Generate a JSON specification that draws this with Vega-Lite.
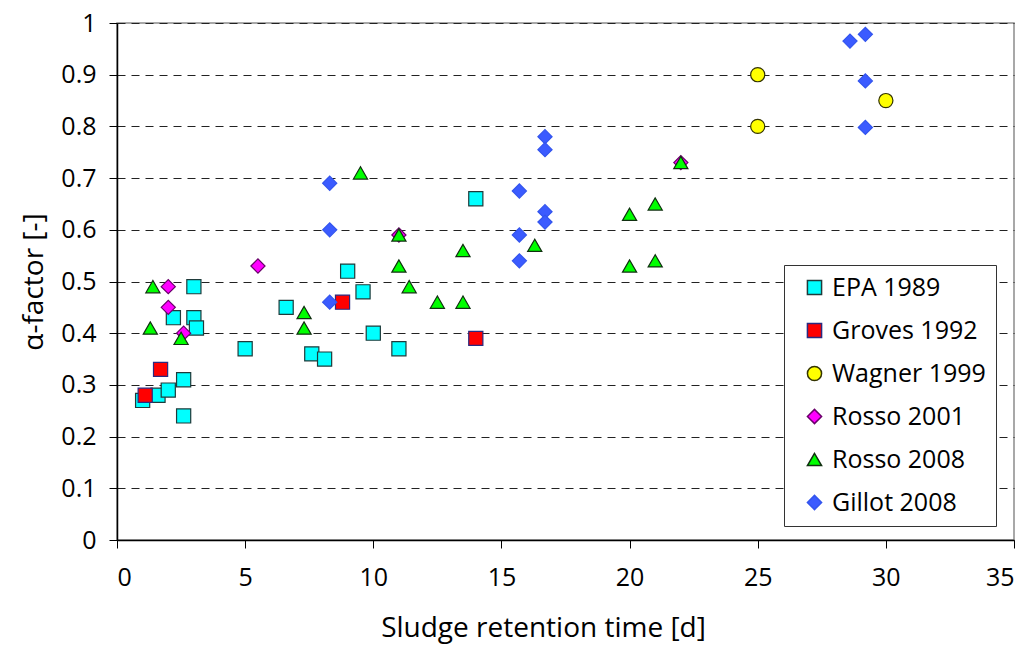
{
  "$schema": "https://vega.github.io/schema/vega-lite/v6.json",
  "width": 897,
  "height": 517,
  "autosize": {"type": "none"},
  "padding": {"left": 117, "top": 23, "right": 15, "bottom": 110},
  "background": "white",
  "config": {
    "font": "Open Sans",
    "view": {"stroke": "#8c8c8c", "strokeWidth": 1.5},
    "axis": {
      "labelFont": "Open Sans",
      "titleFont": "Open Sans",
      "labelFontSize": 25,
      "titleFontSize": 28,
      "titleFontWeight": "normal",
      "labelColor": "#000",
      "titleColor": "#000",
      "domainColor": "#000",
      "tickColor": "#000",
      "domainWidth": 1.5,
      "tickSize": 8
    }
  },
  "data": {
    "values": [
      {"srt": 1.0, "alpha": 0.27, "study": "EPA 1989"},
      {"srt": 1.6, "alpha": 0.28, "study": "EPA 1989"},
      {"srt": 2.0, "alpha": 0.29, "study": "EPA 1989"},
      {"srt": 2.6, "alpha": 0.31, "study": "EPA 1989"},
      {"srt": 2.6, "alpha": 0.24, "study": "EPA 1989"},
      {"srt": 2.2, "alpha": 0.43, "study": "EPA 1989"},
      {"srt": 3.0, "alpha": 0.49, "study": "EPA 1989"},
      {"srt": 3.0, "alpha": 0.43, "study": "EPA 1989"},
      {"srt": 3.1, "alpha": 0.41, "study": "EPA 1989"},
      {"srt": 5.0, "alpha": 0.37, "study": "EPA 1989"},
      {"srt": 6.6, "alpha": 0.45, "study": "EPA 1989"},
      {"srt": 7.6, "alpha": 0.36, "study": "EPA 1989"},
      {"srt": 8.1, "alpha": 0.35, "study": "EPA 1989"},
      {"srt": 9.0, "alpha": 0.52, "study": "EPA 1989"},
      {"srt": 9.6, "alpha": 0.48, "study": "EPA 1989"},
      {"srt": 10.0, "alpha": 0.40, "study": "EPA 1989"},
      {"srt": 11.0, "alpha": 0.37, "study": "EPA 1989"},
      {"srt": 14.0, "alpha": 0.66, "study": "EPA 1989"},
      {"srt": 1.1, "alpha": 0.28, "study": "Groves 1992"},
      {"srt": 1.7, "alpha": 0.33, "study": "Groves 1992"},
      {"srt": 8.8, "alpha": 0.46, "study": "Groves 1992"},
      {"srt": 14.0, "alpha": 0.39, "study": "Groves 1992"},
      {"srt": 25.0, "alpha": 0.90, "study": "Wagner 1999"},
      {"srt": 25.0, "alpha": 0.80, "study": "Wagner 1999"},
      {"srt": 30.0, "alpha": 0.85, "study": "Wagner 1999"},
      {"srt": 2.0, "alpha": 0.49, "study": "Rosso 2001"},
      {"srt": 2.0, "alpha": 0.45, "study": "Rosso 2001"},
      {"srt": 2.6, "alpha": 0.40, "study": "Rosso 2001"},
      {"srt": 5.5, "alpha": 0.53, "study": "Rosso 2001"},
      {"srt": 11.0, "alpha": 0.59, "study": "Rosso 2001"},
      {"srt": 22.0, "alpha": 0.73, "study": "Rosso 2001"},
      {"srt": 1.4, "alpha": 0.49, "study": "Rosso 2008"},
      {"srt": 1.3, "alpha": 0.41, "study": "Rosso 2008"},
      {"srt": 2.5, "alpha": 0.39, "study": "Rosso 2008"},
      {"srt": 7.3, "alpha": 0.44, "study": "Rosso 2008"},
      {"srt": 7.3, "alpha": 0.41, "study": "Rosso 2008"},
      {"srt": 9.5, "alpha": 0.71, "study": "Rosso 2008"},
      {"srt": 11.0, "alpha": 0.59, "study": "Rosso 2008"},
      {"srt": 11.0, "alpha": 0.53, "study": "Rosso 2008"},
      {"srt": 11.4, "alpha": 0.49, "study": "Rosso 2008"},
      {"srt": 12.5, "alpha": 0.46, "study": "Rosso 2008"},
      {"srt": 13.5, "alpha": 0.46, "study": "Rosso 2008"},
      {"srt": 13.5, "alpha": 0.56, "study": "Rosso 2008"},
      {"srt": 16.3, "alpha": 0.57, "study": "Rosso 2008"},
      {"srt": 20.0, "alpha": 0.63, "study": "Rosso 2008"},
      {"srt": 21.0, "alpha": 0.65, "study": "Rosso 2008"},
      {"srt": 20.0, "alpha": 0.53, "study": "Rosso 2008"},
      {"srt": 21.0, "alpha": 0.54, "study": "Rosso 2008"},
      {"srt": 22.0, "alpha": 0.73, "study": "Rosso 2008"},
      {"srt": 8.3, "alpha": 0.69, "study": "Gillot 2008"},
      {"srt": 8.3, "alpha": 0.60, "study": "Gillot 2008"},
      {"srt": 8.3, "alpha": 0.46, "study": "Gillot 2008"},
      {"srt": 15.7, "alpha": 0.675, "study": "Gillot 2008"},
      {"srt": 15.7, "alpha": 0.59, "study": "Gillot 2008"},
      {"srt": 15.7, "alpha": 0.54, "study": "Gillot 2008"},
      {"srt": 16.7, "alpha": 0.78, "study": "Gillot 2008"},
      {"srt": 16.7, "alpha": 0.755, "study": "Gillot 2008"},
      {"srt": 16.7, "alpha": 0.635, "study": "Gillot 2008"},
      {"srt": 16.7, "alpha": 0.615, "study": "Gillot 2008"},
      {"srt": 28.6, "alpha": 0.965, "study": "Gillot 2008"},
      {"srt": 29.2, "alpha": 0.978, "study": "Gillot 2008"},
      {"srt": 29.2, "alpha": 0.888, "study": "Gillot 2008"},
      {"srt": 29.2, "alpha": 0.798, "study": "Gillot 2008"}
    ]
  },
  "mark": {"type": "point", "filled": true, "strokeWidth": 1.2, "opacity": 1},
  "encoding": {
    "x": {
      "field": "srt",
      "type": "quantitative",
      "scale": {"domain": [0, 35], "nice": false, "zero": true},
      "axis": {"values": [0, 5, 10, 15, 20, 25, 30, 35], "grid": false, "title": "Sludge retention time [d]", "titlePadding": 24, "labelPadding": 17, "titleX": 426}
    },
    "y": {
      "field": "alpha",
      "type": "quantitative",
      "scale": {"domain": [0, 1], "nice": false},
      "axis": {
        "values": [0, 0.1, 0.2, 0.3, 0.4, 0.5, 0.6, 0.7, 0.8, 0.9, 1],
        "format": "~g",
        "grid": true,
        "gridColor": "#222",
        "gridDash": [8, 6],
        "gridWidth": 1.2,
        "title": "α-factor [-]",
        "titlePadding": 12,
        "labelPadding": 13
      }
    },
    "size": {
      "field": "study",
      "type": "nominal",
      "scale": {
        "domain": ["EPA 1989", "Groves 1992", "Wagner 1999", "Rosso 2001", "Rosso 2008", "Gillot 2008"],
        "range": [200, 200, 240, 300, 320, 300]
      }
    },
    "shape": {
      "field": "study",
      "type": "nominal",
      "scale": {
        "domain": ["EPA 1989", "Groves 1992", "Wagner 1999", "Rosso 2001", "Rosso 2008", "Gillot 2008"],
        "range": ["square", "square", "circle", "diamond", "triangle-up", "diamond"]
      },
      "legend": {
        "title": null,
        "orient": "none",
        "legendX": 667,
        "legendY": 242,
        "direction": "vertical",
        "fillColor": "white",
        "strokeColor": "#333",
        "padding": 10,
        "rowPadding": 17,
        "labelFontSize": 25,
        "labelFont": "Open Sans",
        "labelColor": "#000",
        "symbolOffset": 8,
        "labelOffset": 5,
        "offset": 0
      }
    },
    "fill": {
      "field": "study",
      "type": "nominal",
      "scale": {
        "domain": ["EPA 1989", "Groves 1992", "Wagner 1999", "Rosso 2001", "Rosso 2008", "Gillot 2008"],
        "range": ["#00ffff", "#ff0000", "#ffff00", "#ff00ff", "#00ff00", "#3b5bff"]
      },
      "legend": null
    },
    "stroke": {
      "field": "study",
      "type": "nominal",
      "scale": {
        "domain": ["EPA 1989", "Groves 1992", "Wagner 1999", "Rosso 2001", "Rosso 2008", "Gillot 2008"],
        "range": ["#1f3b3b", "#2a2a80", "#333300", "#6a006a", "#103010", "#3355ee"]
      },
      "legend": null
    }
  }
}
